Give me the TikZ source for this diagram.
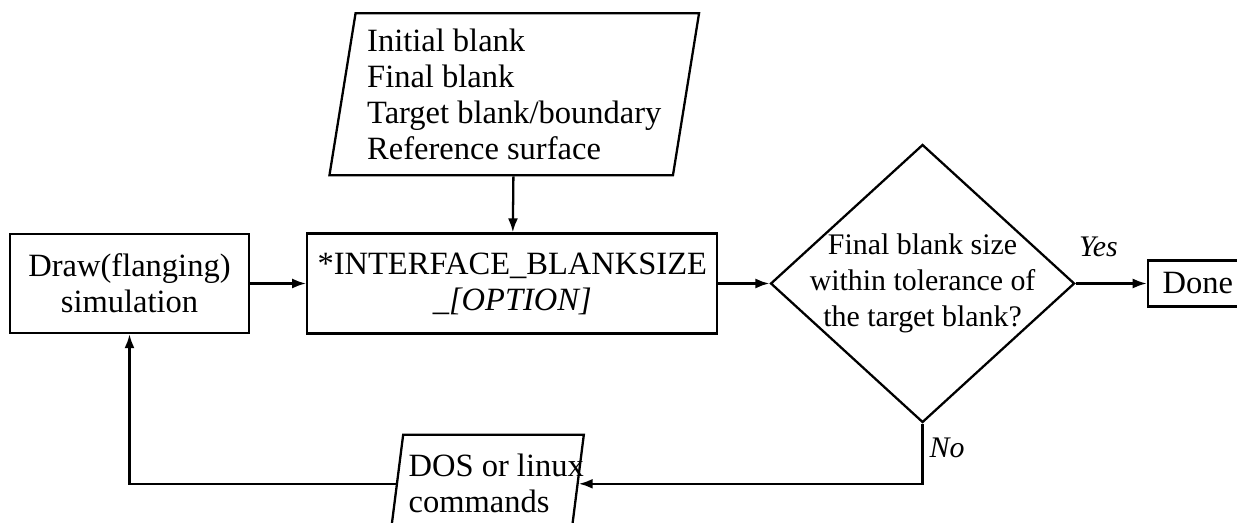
\documentclass[tikz,border=0pt]{standalone}
\usepackage{fontspec}
\setmainfont{Liberation Serif}
\usetikzlibrary{shapes.geometric, arrows.meta, positioning}
\tikzstyle{process} = [rectangle, draw=black, line width=1.3pt, align=center,
    font=\fontsize{18.5}{20.5}\selectfont]
\tikzstyle{datain} = [trapezium, trapezium left angle=80, trapezium right angle=100,
    trapezium stretches=true, draw=black, line width=1.3pt, font=\fontsize{18.5}{20.5}\selectfont]
\tikzstyle{decision} = [diamond, minimum width=6.08cm, minimum height=5.56cm, inner sep=-9pt,
    align=center, draw=black, line width=1.3pt, font=\fontsize{17}{20.5}\selectfont]
\tikzstyle{arrow} = [line width=1.3pt, -{Latex[length=2.8mm, width=2mm]}]
\tikzstyle{ans} = [font=\fontsize{17}{20}\selectfont\itshape]

\begin{document}
\begin{tikzpicture}[node distance=1.12cm]
\useasboundingbox (0,0) rectangle (24.74,-10.46);
\node (sim) [process, minimum width=4.78cm, minimum height=1.98cm] at (2.59,-5.67) {Draw(flanging)\\simulation};
\node (iface) [process, right=1.12cm of sim, minimum width=8.2cm, minimum height=2cm] {*INTERFACE\_BLANKSIZE\\\textit{\_[OPTION]}};
\node (input) [datain, above=1.16cm of iface, xshift=0.04cm, yshift=-0.04cm, minimum width=7.4cm, minimum height=3.24cm, align=left] {Initial blank\\Final blank\\Target blank/boundary\\Reference surface};
\node (check) [decision, right=1.02cm of iface] {Final blank size\\within tolerance of\\the target blank?};
\node (done) [process, right=1.42cm of check, minimum width=2cm, minimum height=0.92cm] {Done};
\node (cmd) [datain, below=1.98cm of iface, xshift=-0.5cm, minimum width=3.84cm, minimum height=1.96cm, align=left, inner xsep=-0.25cm] {\hspace*{0.36cm}DOS or linux\\\hspace*{0.36cm}commands};

\draw[arrow] (input) -- (iface);
\draw[arrow] (sim) -- (iface);
\draw[arrow] (iface) -- (check);
\draw[arrow] (check) -- node[ans, above=0.4cm, pos=0.32]{Yes} (done);
\draw[arrow] (check) |- node[ans, right, pos=0.2]{No} (cmd);
\draw[arrow] (cmd) -| (sim);
\end{tikzpicture}
\end{document}
